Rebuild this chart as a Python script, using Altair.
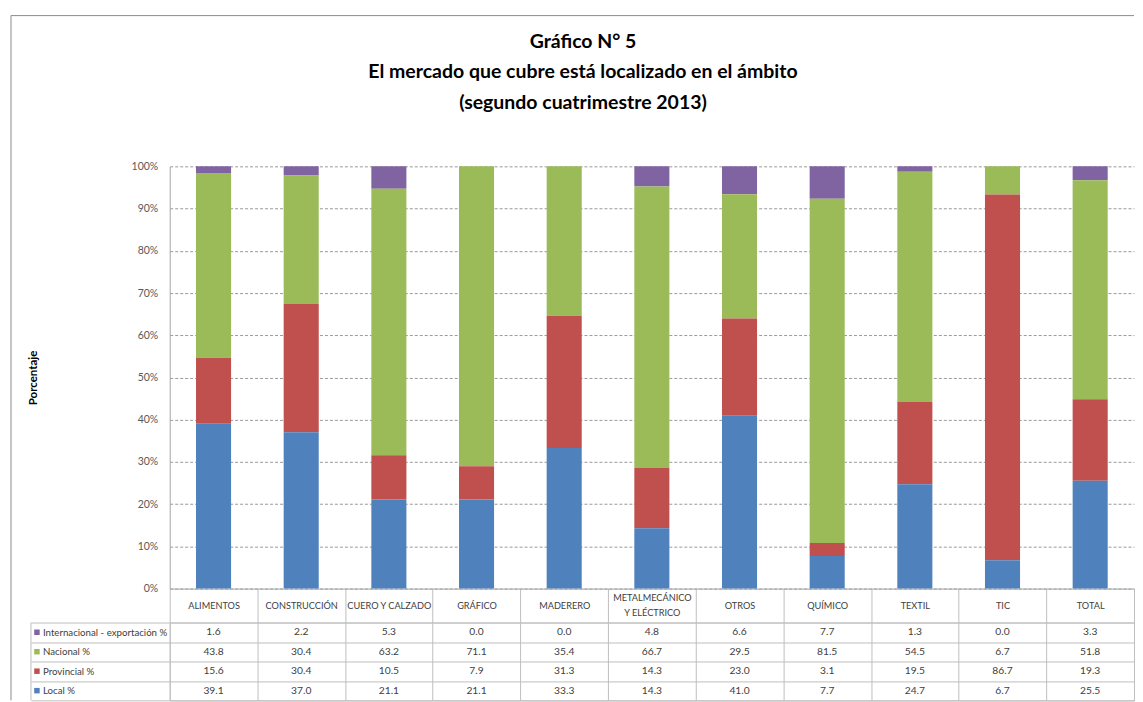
import altair as alt
import pandas as pd

categorias = ["ALIMENTOS", "CONSTRUCCIÓN", "CUERO Y CALZADO", "GRÁFICO", "MADERERO",
              "METALMECÁNICO Y ELÉCTRICO", "OTROS", "QUÍMICO", "TEXTIL", "TIC", "TOTAL"]
series = ["Internacional - exportación %", "Nacional %", "Provincial %", "Local %"]
internacional = [1.6, 2.2, 5.3, 0.0, 0.0, 4.8, 6.6, 7.7, 1.3, 0.0, 3.3]
nacional = [43.8, 30.4, 63.2, 71.1, 35.4, 66.7, 29.5, 81.5, 54.5, 6.7, 51.8]
provincial = [15.6, 30.4, 10.5, 7.9, 31.3, 14.3, 23.0, 3.1, 19.5, 86.7, 19.3]
local = [39.1, 37.0, 21.1, 21.1, 33.3, 14.3, 41.0, 7.7, 24.7, 6.7, 25.5]
colores = ["#8064A2", "#9BBB59", "#C0504D", "#4F81BD"]
y_ticks = [0, 0.1, 0.2, 0.3, 0.4, 0.5, 0.6, 0.7, 0.8, 0.9, 1.0]
titulo = ["Gráfico N° 5", "El mercado que cubre está localizado en el ámbito",
          "(segundo cuatrimestre 2013)"]

rows = []
for i, c in enumerate(categorias):
    for s, vals, orden in zip(series, [internacional, nacional, provincial, local], [3, 2, 1, 0]):
        rows.append({"categoria": c, "serie": s, "valor": vals[i], "orden": orden})
df = pd.DataFrame(rows)
df_series = pd.DataFrame({"serie": series})
df_one = pd.DataFrame({"d": [0]})

W, H, TH, HEAD = 966, 423, 78, 34
FONT = "Lato"
GRAY = "#bfbfbf"
TXT = "#404040"
LARGO = "METALMECÁNICO Y ELÉCTRICO"

color_enc = alt.Color("serie:N", scale=alt.Scale(domain=series, range=colores), legend=None)

bars = alt.Chart(df).mark_bar(width=alt.RelativeBandSize(0.4)).encode(
    x=alt.X("categoria:N", sort=categorias, title=None,
            scale=alt.Scale(paddingInner=0, paddingOuter=0),
            axis=alt.Axis(orient="bottom", tickBand="extent", tickSize=HEAD, tickColor=GRAY,
                          domainColor="#a6a6a6",
                          labelPadding={"condition": {"test": f"datum.label == '{LARGO}'", "value": -25},
                                        "value": -HEAD / 2},
                          labelBaseline="middle",
                          labelAngle=0, labelFont=FONT, labelFontSize=9.2, labelColor=TXT,
                          labelOverlap=False, labelLimit=0, labelLineHeight=14.5,
                          labelExpr=f"datum.label == '{LARGO}' ? ['METALMECÁNICO', 'Y ELÉCTRICO'] : datum.label")),
    y=alt.Y("valor:Q", stack="normalize", title="Porcentaje",
            scale=alt.Scale(domain=[0, 1], nice=False),
            axis=alt.Axis(format=".0%", values=y_ticks, grid=True, gridDash=[3, 2],
                          gridColor="#9a9a9a", ticks=False, domainColor="#a6a6a6",
                          labelPadding=12, labelFont=FONT, labelFontSize=10.5, labelColor="#595959",
                          titleFont=FONT, titleFontSize=11.5, titleFontWeight="bold",
                          titleColor="black", titlePadding=93)),
    color=color_enc,
    order=alt.Order("orden:Q", sort="ascending"),
)

borde_izq = alt.Chart(df_one).mark_rule(color="#8c8c8c", strokeWidth=1).encode(
    x=alt.value(-159), y=alt.value(-151), y2=alt.value(H + HEAD + TH))
borde_sup = alt.Chart(df_one).mark_rule(color="#8c8c8c", strokeWidth=1).encode(
    x=alt.value(-159), x2=alt.value(W), y=alt.value(-151))

top = alt.layer(bars, borde_izq, borde_sup).properties(
    width=W, height=H,
    view=alt.ViewBackground(stroke="transparent"),
    title=alt.TitleParams(text=titulo, font=FONT, fontSize=19.5, fontWeight="bold", color="black",
                          lineHeight=31, anchor="middle", frame="group", dx=-69, offset=-99),
)

tabla_x = alt.X("categoria:N", sort=categorias, title=None,
                scale=alt.Scale(paddingInner=0, paddingOuter=0),
                axis=alt.Axis(labels=False, ticks=False, domain=False, grid=True,
                              tickBand="extent", gridColor=GRAY))
tabla_y = alt.Y("serie:N", sort=series, title=None,
                scale=alt.Scale(paddingInner=0, paddingOuter=0),
                axis=alt.Axis(grid=True, tickBand="extent", gridColor=GRAY, tickColor=GRAY,
                              tickSize=139, labelAlign="left", labelPadding=-11.5, domain=False,
                              labelFont=FONT, labelFontSize=9.7, labelColor=TXT, labelLimit=0))

texto = alt.Chart(df).mark_text(font=FONT, fontSize=10.3, color=TXT).encode(
    x=tabla_x, y=tabla_y, text=alt.Text("valor:Q", format=".1f"))
cuadros = alt.Chart(df_series).mark_square(size=30, opacity=1).encode(
    x=alt.value(-133), y=alt.Y("serie:N", sort=series), color=color_enc)
borde_tabla = alt.Chart(df_one).mark_rule(color=GRAY).encode(
    x=alt.value(-139), y=alt.value(0), y2=alt.value(TH))

tabla = alt.layer(texto, cuadros, borde_tabla).properties(
    width=W, height=TH, view=alt.ViewBackground(stroke=GRAY))

chart = alt.vconcat(top, tabla, spacing=HEAD, bounds="flush").resolve_scale(
    x="independent", y="independent", color="shared"
).properties(
    padding={"left": 2, "top": 6, "right": 0, "bottom": 0},
    background="white",
)

chart.save("out.html", embed_options={"renderer": "svg", "actions": False})
